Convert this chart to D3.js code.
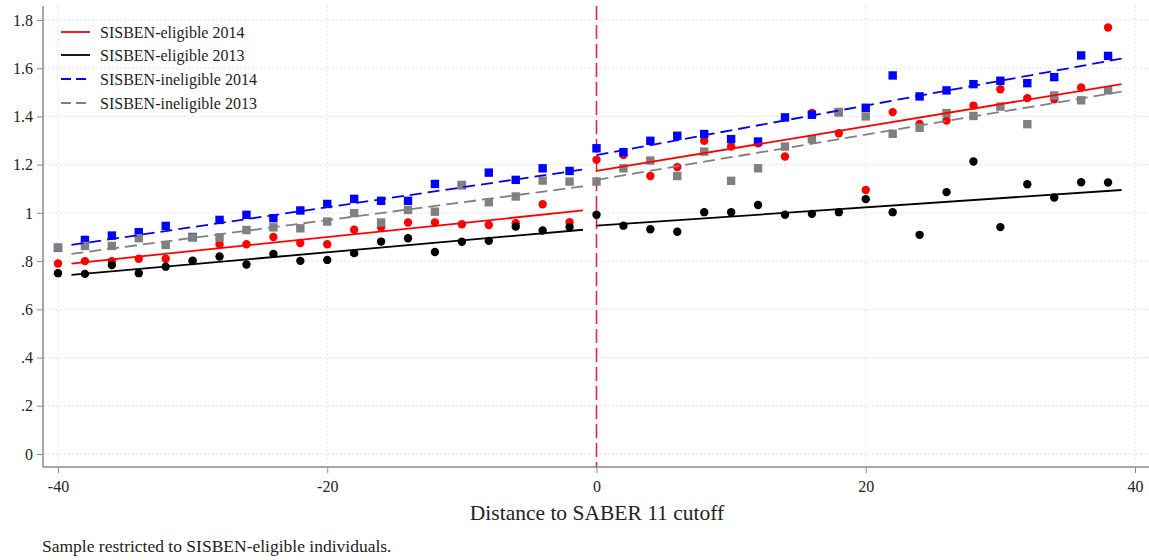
<!DOCTYPE html>
<html><head><meta charset="utf-8">
<script src="https://cdn.jsdelivr.net/npm/d3@7"></script>
<style>
body{margin:0;background:#fff;}
svg text{font-family:"Liberation Serif","DejaVu Serif",serif;}
</style></head>
<body><svg id="c" width="1149" height="560"></svg>
<script>
// ---- data ----
const xLeft  = [-40,-38,-36,-34,-32,-30,-28,-26,-24,-22,-20,-18,-16,-14,-12,-10,-8,-6,-4,-2];
const xRight = [0,2,4,6,8,10,12,14,16,18,20,22,24,26,28,30,32,34,36,38];

const elig2014Left  = [0.79,0.80,0.80,0.81,0.81,0.80,0.87,0.87,0.90,0.875,0.87,0.93,0.94,0.96,0.96,0.953,0.95,0.957,1.036,0.961];
const elig2014Right = [1.22,1.24,1.153,1.19,1.299,1.275,1.289,1.234,1.414,1.33,1.095,1.418,1.369,1.383,1.445,1.513,1.476,1.471,1.52,1.769];

const elig2013Left  = [0.75,0.747,0.784,0.75,0.777,0.802,0.819,0.786,0.83,0.801,0.805,0.833,0.881,0.895,0.838,0.88,0.884,0.943,0.927,0.941];
const elig2013Right = [0.992,0.947,0.932,0.922,1.003,1.003,1.033,0.992,0.996,1.003,1.057,1.003,0.909,1.086,1.213,0.941,1.119,1.064,1.127,1.126];

const inelig2014Left  = [0.855,0.888,0.906,0.92,0.946,0.90,0.971,0.992,0.978,1.01,1.037,1.058,1.05,1.05,1.12,1.115,1.167,1.137,1.185,1.174];
const inelig2014Right = [1.268,1.252,1.299,1.32,1.327,1.306,1.296,1.396,1.407,1.418,1.436,1.57,1.483,1.508,1.534,1.548,1.538,1.563,1.653,1.651];

const inelig2013Left  = [0.856,0.863,0.863,0.895,0.867,0.898,0.898,0.929,0.94,0.936,0.964,0.999,0.96,1.012,1.005,1.116,1.044,1.068,1.134,1.13];
const inelig2013Right = [1.13,1.185,1.217,1.153,1.254,1.133,1.185,1.275,1.306,1.418,1.40,1.328,1.353,1.414,1.402,1.441,1.368,1.487,1.467,1.508];

// fitted lines (endpoints)
const fitXLeft  = [-39,-1];
const fitXRight = [0,39];
const fitElig2014   = {left:[0.79,1.01],  right:[1.174,1.534]};
const fitElig2013   = {left:[0.743,0.93], right:[0.947,1.095]};
const fitInelig2014 = {left:[0.867,1.18], right:[1.24,1.64]};
const fitInelig2013 = {left:[0.83,1.11],  right:[1.137,1.503]};

const xTicks = [-40,-20,0,20,40];
const xTickLabels = ["-40","-20","0","20","40"];
const yTicks = [0,0.2,0.4,0.6,0.8,1,1.2,1.4,1.6,1.8];
const yTickLabels = ["0",".2",".4",".6",".8","1","1.2","1.4","1.6","1.8"];
const legendLabels = ["SISBEN-eligible 2014","SISBEN-eligible 2013","SISBEN-ineligible 2014","SISBEN-ineligible 2013"];
const xTitle = "Distance to SABER 11 cutoff";
const note = "Sample restricted to SISBEN-eligible individuals.";

// ---- drawing ----
const svg = d3.select("#c");
const x = d3.scaleLinear().domain([-40,40]).range([58,1135]);
const y = d3.scaleLinear().domain([0,1.8]).range([454,20]);
const plotL = 43, plotR = 1149, plotT = 6, plotB = 467;

// grid
const g = svg.append("g");
g.selectAll("line.hg").data(yTicks).join("line")
  .attr("x1",plotL+1).attr("x2",plotR).attr("y1",d=>y(d)).attr("y2",d=>y(d))
  .attr("stroke","#dcdcdc").attr("stroke-width",1).attr("stroke-dasharray","1.5,2.5");
g.selectAll("line.vg").data(xTicks).join("line")
  .attr("x1",d=>x(d)).attr("x2",d=>x(d)).attr("y1",plotT).attr("y2",plotB-1)
  .attr("stroke","#dcdcdc").attr("stroke-width",1).attr("stroke-dasharray","1.5,2.5");

// axes
const yAxis = d3.axisLeft(y).tickValues(yTicks).tickFormat((d,i)=>yTickLabels[i]).tickSize(6).tickPadding(4);
const ya = svg.append("g").attr("transform",`translate(${plotL},0)`).call(yAxis);
ya.select(".domain").remove();
ya.append("line").attr("x1",0).attr("x2",0).attr("y1",plotT).attr("y2",plotB).attr("stroke","#8a8a8a").attr("stroke-width",1.5);
ya.selectAll(".tick line").attr("stroke","#8a8a8a");
ya.selectAll(".tick text").attr("font-size",16).attr("fill","#222").attr("font-family","Liberation Serif, serif");

const xAxis = d3.axisBottom(x).tickValues(xTicks).tickFormat((d,i)=>xTickLabels[i]).tickSize(6).tickPadding(8);
const xa = svg.append("g").attr("transform",`translate(0,${plotB})`).call(xAxis);
xa.select(".domain").remove();
xa.append("line").attr("x1",plotL).attr("x2",plotR).attr("y1",0).attr("y2",0).attr("stroke","#8a8a8a").attr("stroke-width",1.5);
xa.selectAll(".tick line").attr("stroke","#8a8a8a");
xa.selectAll(".tick text").attr("font-size",16).attr("fill","#222").attr("font-family","Liberation Serif, serif");

// cutoff line
svg.append("line").attr("x1",x(0)).attr("x2",x(0)).attr("y1",plotT).attr("y2",plotB)
  .attr("stroke","#e8283a").attr("stroke-width",1.6).attr("stroke-dasharray","14,5");

// series
const series = [
  {name:"e14", color:"#ff0000", shape:"circle", left:elig2014Left, right:elig2014Right, fit:fitElig2014, dash:null},
  {name:"e13", color:"#000000", shape:"circle", left:elig2013Left, right:elig2013Right, fit:fitElig2013, dash:null},
  {name:"i14", color:"#0000ff", shape:"square", left:inelig2014Left, right:inelig2014Right, fit:fitInelig2014, dash:"12,6"},
  {name:"i13", color:"#808080", shape:"square", left:inelig2013Left, right:inelig2013Right, fit:fitInelig2013, dash:"12,6"}
];

series.forEach(s=>{
  const pts = xLeft.map((v,i)=>({x:v,y:s.left[i]})).concat(xRight.map((v,i)=>({x:v,y:s.right[i]})));
  const gg = svg.append("g");
  if (s.shape==="circle") {
    gg.selectAll("circle").data(pts).join("circle")
      .attr("cx",d=>x(d.x)).attr("cy",d=>y(d.y)).attr("r",4.2).attr("fill",s.color);
  } else {
    gg.selectAll("rect").data(pts).join("rect")
      .attr("x",d=>x(d.x)-4.2).attr("y",d=>y(d.y)-4.2).attr("width",8.4).attr("height",8.4).attr("fill",s.color);
  }
});

const line = d3.line().x(d=>x(d[0])).y(d=>y(d[1]));
series.forEach(s=>{
  [[fitXLeft,s.fit.left],[fitXRight,s.fit.right]].forEach(([xs,ys])=>{
    svg.append("path").datum(xs.map((v,i)=>[v,ys[i]])).attr("d",line)
      .attr("fill","none").attr("stroke",s.color).attr("stroke-width",1.8)
      .attr("stroke-dasharray",s.dash);
  });
});

// legend
const lg = svg.append("g");
const legendY = [32,55,79,103];
series.forEach((s,i)=>{
  lg.append("line").attr("x1",61).attr("x2",90).attr("y1",legendY[i]).attr("y2",legendY[i])
    .attr("stroke",s.color).attr("stroke-width",1.8).attr("stroke-dasharray",s.dash?"10,5":null);
  lg.append("text").attr("x",100).attr("y",legendY[i]).attr("dy","0.35em")
    .attr("font-size",16).attr("fill","#222").text(legendLabels[i]);
});

// titles
svg.append("text").attr("x",597).attr("y",520).attr("text-anchor","middle")
  .attr("font-size",21.5).attr("fill","#222").text(xTitle);
svg.append("text").attr("x",42).attr("y",552)
  .attr("font-size",17.5).attr("fill","#222").text(note);
</script></body></html>
